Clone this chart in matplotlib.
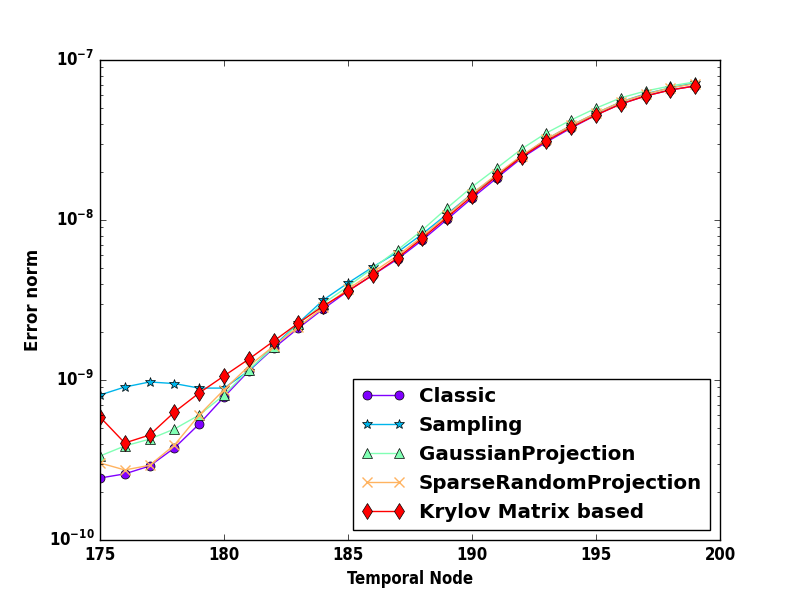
import numpy as np
import matplotlib
matplotlib.use('Agg')
import matplotlib.pyplot as plt

plt.style.use('classic')
plt.rcParams['mathtext.fontset'] = 'custom'
plt.rcParams['mathtext.rm'] = 'DejaVu Sans:bold'
plt.rcParams['mathtext.it'] = 'DejaVu Sans:bold:italic'
plt.rcParams['mathtext.bf'] = 'DejaVu Sans:bold'

nodos = list(range(175, 200))

classic = [2.44e-10, 2.59e-10, 2.90e-10, 3.76e-10, 5.31e-10, 7.83e-10, 1.14e-9, 1.58e-9,
           2.11e-9, 2.78e-9, 3.6e-9, 4.53e-9, 5.7e-9, 7.5e-9, 1.01e-8, 1.37e-8, 1.83e-8,
           2.44e-8, 3.07e-8, 3.76e-8, 4.53e-8, 5.31e-8, 5.96e-8, 6.5e-8, 6.88e-8]
sampling = [8.06e-10, 9.04e-10, 9.72e-10, 9.5e-10, 8.9e-10, 8.9e-10, 1.14e-9, 1.63e-9,
            2.27e-9, 3.16e-9, 4.04e-9, 5.08e-9, 6.3e-9, 8.18e-9, 1.09e-8, 1.46e-8, 1.9e-8,
            2.5e-8, 3.2e-8, 3.9e-8, 4.65e-8, 5.47e-8, 6.15e-8, 6.7e-8, 7.2e-8]
gaussian = [3.35e-10, 3.87e-10, 4.27e-10, 4.94e-10, 6.04e-10, 8.06e-10, 1.16e-9, 1.6e-9,
            2.24e-9, 3.0e-9, 3.85e-9, 5.0e-9, 6.5e-9, 8.66e-9, 1.19e-8, 1.61e-8, 2.11e-8,
            2.78e-8, 3.5e-8, 4.22e-8, 5.0e-8, 5.8e-8, 6.4e-8, 6.88e-8, 7.3e-8]
sparse = [3.03e-10, 2.74e-10, 2.93e-10, 3.92e-10, 6.04e-10, 8.7e-10, 1.22e-9, 1.63e-9,
          2.15e-9, 2.84e-9, 3.7e-9, 4.7e-9, 6.0e-9, 7.9e-9, 1.07e-8, 1.46e-8, 1.93e-8,
          2.53e-8, 3.2e-8, 3.9e-8, 4.65e-8, 5.47e-8, 6.1e-8, 6.7e-8, 7.1e-8]
krylov = [5.87e-10, 4.04e-10, 4.53e-10, 6.3e-10, 8.3e-10, 1.06e-9, 1.35e-9, 1.75e-9,
          2.27e-9, 2.9e-9, 3.6e-9, 4.53e-9, 5.8e-9, 7.7e-9, 1.04e-8, 1.41e-8, 1.88e-8,
          2.48e-8, 3.12e-8, 3.8e-8, 4.53e-8, 5.31e-8, 5.96e-8, 6.5e-8, 6.88e-8]

nombres = ['Classic', 'Sampling', 'GaussianProjection', 'SparseRandomProjection', 'Krylov Matrix based']
series = [classic, sampling, gaussian, sparse, krylov]
marcadores = ['o', '*', '^', 'x', 'd']
tamanos = [6.5, 7, 6.5, 7, 8]
colores = plt.cm.rainbow(np.linspace(0, 1, 5))

fig, ax = plt.subplots(figsize=(8, 6), dpi=100)
fig.patch.set_facecolor('white')

for valores, nombre, m, s, c in zip(series, nombres, marcadores, tamanos, colores):
    ax.plot(nodos, valores, marker=m, color=c, label=nombre, markersize=s,
            markeredgecolor=c if m == 'x' else 'k', markeredgewidth=0.5 if m != 'x' else 1.0)

ax.set_yscale('log')
ax.set_xlim(175, 200)
ax.set_ylim(1e-10, 1e-7)

cond = dict(family='DejaVu Sans', stretch='condensed', weight='bold', size=12)
ax.set_xlabel('Temporal Node', fontdict=cond)
ax.set_ylabel('Error norm', fontsize=12, fontweight='bold')
for t in ax.get_xticklabels() + ax.get_yticklabels():
    t.set_fontweight('bold')
    t.set_fontstretch('condensed')
    t.set_fontsize(12)

leg = ax.legend(loc='lower right', numpoints=2, prop={'weight': 'bold', 'size': 14.3},
                borderaxespad=0.5, handlelength=2.2, handletextpad=0.7)

fig.savefig('out.png', dpi=100, facecolor='white')
